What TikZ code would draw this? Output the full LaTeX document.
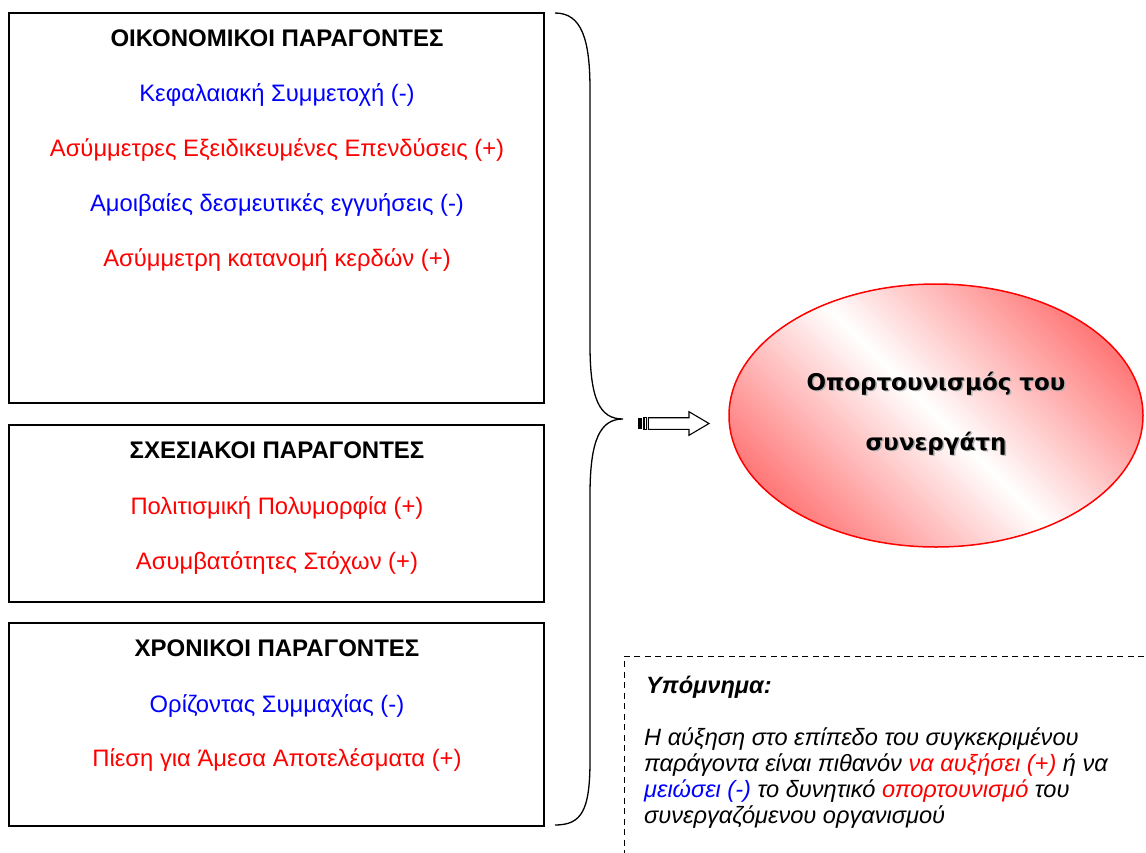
\documentclass[tikz,border=0pt]{standalone}
\usepackage{fontspec}
\setmainfont{Liberation Sans}
\newfontfamily\goalfont{DejaVu Sans}
\usetikzlibrary{shapes.geometric}

\definecolor{plusred}{RGB}{255,0,0}
\definecolor{minusblue}{RGB}{0,0,255}
\definecolor{softred}{RGB}{255,122,122}

\tikzset{
  factorbox/.style={draw, line width=1.6pt, minimum width=535pt, anchor=north west,
                    inner sep=0pt, outer sep=0pt},
  heading/.style={anchor=base, inner sep=0pt, font=\fontsize{24}{28}\selectfont\bfseries},
  item/.style={anchor=base, inner sep=0pt, font=\fontsize{23.8}{28}\selectfont},
  plus/.style={item, text=plusred},
  minus/.style={item, text=minusblue},
  bracepath/.style={draw, line width=1.3pt},
  goal/.style={ellipse, draw=plusred, line width=1.5pt, minimum width=414pt,
               minimum height=263pt, inner sep=0pt,
               shading=axis, top color=softred, bottom color=softred,
               middle color=white, shading angle=-45},
  goaltext/.style={anchor=base, inner sep=0pt, font=\fontsize{23}{28}\selectfont\goalfont\bfseries},
  goalshadow/.style={goaltext, text=black!30},
  legendbox/.style={draw, dashed, dash pattern=on 6pt off 4.5pt, line width=1.2pt,
                    anchor=north west, minimum width=560pt, minimum height=240pt,
                    inner sep=0pt},
  legendline/.style={anchor=base west, inner sep=0pt,
                     font=\fontsize{23.6}{28}\selectfont\itshape},
}

\begin{document}
\begin{tikzpicture}[x=1pt, y=-1pt]
\useasboundingbox (0,0) rectangle (1146,852);
\begin{scope}
\clip (0,0) rectangle (1146,852);

% --- factor boxes ---------------------------------------------------------
\node[factorbox, minimum height=390pt] (econ) at (9,13) {};
\node[heading] (econH) at (277,46) {ΟΙΚΟΝΟΜΙΚΟΙ ΠΑΡΑΓΟΝΤΕΣ};
\node[minus] (econA) at (277,101.5) {Κεφαλαιακή Συμμετοχή (-)};
\node[plus]  (econB) at (277,156.5) {Ασύμμετρες Εξειδικευμένες Επενδύσεις (+)};
\node[minus] (econC) at (277,211.5) {Αμοιβαίες δεσμευτικές εγγυήσεις (-)};
\node[plus]  (econD) at (277,266.5) {Ασύμμετρη κατανομή κερδών (+)};

\node[factorbox, minimum height=177pt] (rel) at (9,425) {};
\node[heading] (relH) at (277,458) {ΣΧΕΣΙΑΚΟΙ ΠΑΡΑΓΟΝΤΕΣ};
\node[plus]  (relA) at (277,514) {Πολιτισμική Πολυμορφία (+)};
\node[plus]  (relB) at (277,569.5) {Ασυμβατότητες Στόχων (+)};

\node[factorbox, minimum height=203pt] (time) at (9,623) {};
\node[heading] (timeH) at (277,656) {ΧΡΟΝΙΚΟΙ ΠΑΡΑΓΟΝΤΕΣ};
\node[minus] (timeA) at (277,712.5) {Ορίζοντας Συμμαχίας (-)};
\node[plus]  (timeB) at (277,766.5) {Πίεση για Άμεσα Αποτελέσματα (+)};

% --- curly brace gathering the three groups -------------------------------
\coordinate (braceTop) at (555,13);
\coordinate (braceTip) at (623,419);
\coordinate (braceBot) at (555,825);
\path[bracepath] (braceTop)
  .. controls (582,13) and (590,40) .. (590,90)
  -- (590,345)
  .. controls (590,400) and (600,419) .. (braceTip)
  .. controls (600,419) and (590,440) .. (590,495)
  -- (590,760)
  .. controls (590,810) and (582,825) .. (braceBot);

% --- striped block arrow towards the outcome -----------------------------
\fill (638.3,417.7) rectangle (641.7,429.3);
\draw[line width=0.9pt] (643.3,417.7) rectangle (646.7,429.3);
\fill (643.3,417.7) rectangle (644.8,429.3);
\draw[line width=1.1pt, fill=white, line join=miter]
  (648.3,417.7) -- (689,417.7) -- (689,411.7) -- (709,423.5)
  -- (689,435.3) -- (689,429.3) -- (648.3,429.3) -- cycle;

% --- outcome ellipse --------------------------------------------------------
\node[goal] (goal) at (936,415.5) {};
\node[goalshadow] at (937.5,391.5) {Οπορτουνισμός του};
\node[goaltext] (goalA) at (936,390) {Οπορτουνισμός του};
\node[goalshadow] at (937.5,451.5) {συνεργάτη};
\node[goaltext] (goalB) at (936,450) {συνεργάτη};

% --- legend -----------------------------------------------------------------
\node[legendbox] (legend) at (623.5,655.5) {};
\node[legendline, font=\fontsize{23.6}{28}\selectfont\bfseries\itshape] (legT) at (646,693) {Υπόμνημα:};
\node[legendline] (leg1) at (644,745.5) {Η αύξηση στο επίπεδο του συγκεκριμένου};
\node[legendline] (leg2) at (644,771.5) {παράγοντα είναι πιθανόν \textcolor{plusred}{να αυξήσει (+)} ή να};
\node[legendline] (leg3) at (644,797.5) {\textcolor{minusblue}{μειώσει (-)} το δυνητικό \textcolor{plusred}{οπορτουνισμό} του};
\node[legendline] (leg4) at (644,823.5) {συνεργαζόμενου οργανισμού};
\end{scope}
\end{tikzpicture}
\end{document}
